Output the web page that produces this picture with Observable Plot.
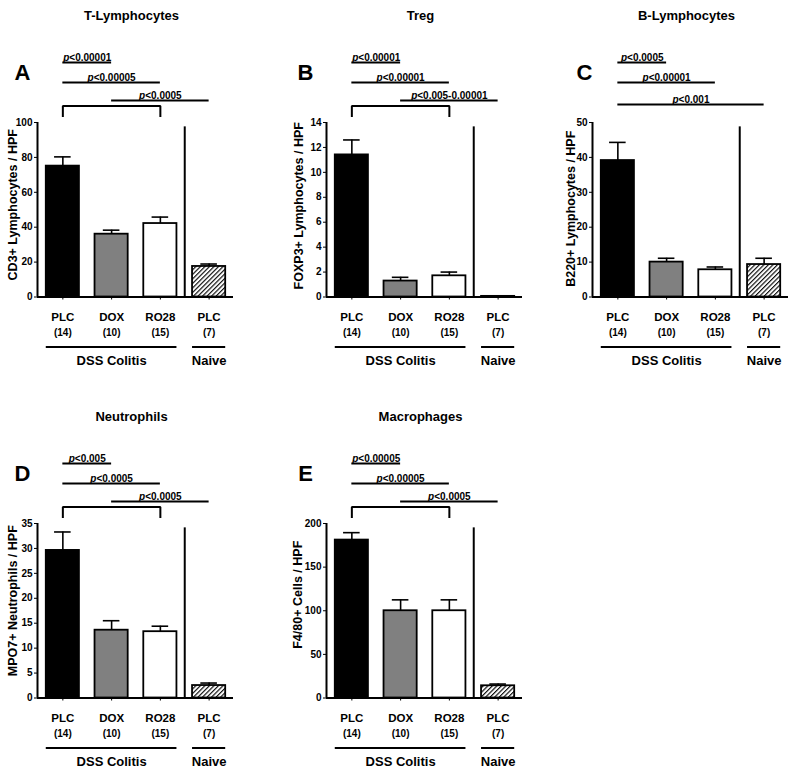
<!DOCTYPE html>
<html><head><meta charset="utf-8">
<script src="https://cdn.jsdelivr.net/npm/d3@7"></script>
<script src="https://cdn.jsdelivr.net/npm/@observablehq/plot@0.6"></script>
<style>
body{margin:0;background:#fff;}
#chart{position:relative;width:800px;height:773px;overflow:hidden;background:#fff;font-family:"Liberation Sans",Arial,sans-serif;}
.panel{position:absolute;}
.panel svg{overflow:visible;}
.panel svg [aria-label^="y-axis"] line,.panel svg [aria-label^="x-axis"] line{stroke-width:1.8;}
</style></head><body>
<svg width="0" height="0" style="position:absolute">
 <defs><pattern id="hatch" patternUnits="userSpaceOnUse" width="3.2" height="3.2" patternTransform="rotate(45)">
 <rect width="3.2" height="3.2" fill="white"/><line x1="0.6" y1="0" x2="0.6" y2="3.2" stroke="black" stroke-width="1.1"/></pattern></defs></svg>
<div id="chart"></div>
<script>
// ---------- shared categories ----------
const groups = ["PLC", "DOX", "RO28", "PLC"];
const groupN = ["(14)", "(10)", "(15)", "(7)"];
const barFills = ["#000000", "#808080", "#ffffff", "url(#hatch)"];
const cohortNames = ["DSS Colitis", "Naive"];
const cohortFirst = [0, 3];
const cohortLast = [2, 3];

// ---------- panel A: T-Lymphocytes ----------
const tcellMean = [75, 36, 42.1, 17.5];
const tcellSem = [5.3, 2.3, 3.7, 1.4];
const tcellTicks = [0, 20, 40, 60, 80, 100];
const tcellCompare = [
  {a: 0, b: 1, label: "p<0.00001", row: 1},
  {a: 0, b: 2, label: "p<0.00005", row: 2},
  {a: 1, b: 3, label: "p<0.0005", row: 3}
];
const tcellBracket = [0, 2];

// ---------- panel B: Treg ----------
const tregMean = [11.4, 1.28, 1.7, 0.05];
const tregSem = [1.2, 0.3, 0.3, 0.02];
const tregTicks = [0, 2, 4, 6, 8, 10, 12, 14];
const tregCompare = [
  {a: 0, b: 1, label: "p<0.00001", row: 1},
  {a: 0, b: 2, label: "p<0.00001", row: 2},
  {a: 1, b: 3, label: "p<0.005-0.00001", row: 3}
];
const tregBracket = [0, 2];

// ---------- panel C: B-Lymphocytes ----------
const bcellMean = [39.1, 10, 7.8, 9.3];
const bcellSem = [5.2, 1.1, 0.8, 1.8];
const bcellTicks = [0, 10, 20, 30, 40, 50];
const bcellCompare = [
  {a: 0, b: 1, label: "p<0.0005", row: 1},
  {a: 0, b: 2, label: "p<0.00001", row: 2},
  {a: 0, b: 3, label: "p<0.001", row: 4}
];
const bcellBracket = null;

// ---------- panel D: Neutrophils ----------
const neutMean = [29.6, 13.6, 13.3, 2.5];
const neutSem = [3.7, 1.9, 1.1, 0.5];
const neutTicks = [0, 5, 10, 15, 20, 25, 30, 35];
const neutCompare = [
  {a: 0, b: 1, label: "p<0.005", row: 1},
  {a: 0, b: 2, label: "p<0.0005", row: 2},
  {a: 1, b: 3, label: "p<0.0005", row: 3}
];
const neutBracket = [0, 2];

// ---------- panel E: Macrophages ----------
const macMean = [181, 100, 100, 14];
const macSem = [8.5, 12.5, 12.5, 2];
const macTicks = [0, 50, 100, 150, 200];
const macCompare = [
  {a: 0, b: 1, label: "p<0.00005", row: 1},
  {a: 0, b: 2, label: "p<0.00005", row: 2},
  {a: 1, b: 3, label: "p<0.0005", row: 3}
];
const macBracket = [0, 2];

// ---------- layout (styles / sizes only) ----------
const FRAME_H = 174.5, FRAME_W = 196, MARGIN_TOP = 122;
const HALF = 0.34, CAP = 0.17;
const ROW_PX = {1: 60, 2: 40, 3: 22, 4: 18};
const BRACKET_TOP = 16.5, BRACKET_BOTTOM = 5.5;
const X_DOMAIN = [-0.52, 3.5];

const panels = [
  {letter: "A", title: "T-Lymphocytes", ylabel: "CD3+ Lymphocytes / HPF", mean: tcellMean, sem: tcellSem, ticks: tcellTicks, compare: tcellCompare, bracket: tcellBracket,
   left: 0, top: 0, width: 265, height: 385, ml: 37, letterDx: -15, ylDx: -25, ylDy: -5},
  {letter: "B", title: "Treg", ylabel: "FOXP3+ Lymphocytes / HPF", mean: tregMean, sem: tregSem, ticks: tregTicks, compare: tregCompare, bracket: tregBracket,
   left: 265, top: 0, width: 265, height: 385, ml: 61, letterDx: -21, ylDx: -28, ylDy: -4},
  {letter: "C", title: "B-Lymphocytes", ylabel: "B220+ Lymphocytes / HPF", mean: bcellMean, sem: bcellSem, ticks: bcellTicks, compare: bcellCompare, bracket: bcellBracket,
   left: 530, top: 0, width: 270, height: 385, ml: 62, letterDx: -8, ylDx: -22, ylDy: -1},
  {letter: "D", title: "Neutrophils", ylabel: "MPO7+ Neutrophils / HPF", mean: neutMean, sem: neutSem, ticks: neutTicks, compare: neutCompare, bracket: neutBracket,
   left: 0, top: 401, width: 265, height: 372, ml: 37, letterDx: -15, ylDx: -25, ylDy: -10},
  {letter: "E", title: "Macrophages", ylabel: "F4/80+ Cells / HPF", mean: macMean, sem: macSem, ticks: macTicks, compare: macCompare, bracket: macBracket,
   left: 265, top: 401, width: 265, height: 372, ml: 61, letterDx: -21, ylDx: -29, ylDy: -16}
];

function italicP(svg) {
  svg.querySelectorAll("text").forEach(t => {
    const s = t.textContent;
    if (/^p</.test(s) && t.children.length === 0) {
      t.textContent = "";
      const ts = document.createElementNS("http://www.w3.org/2000/svg", "tspan");
      ts.setAttribute("font-style", "italic");
      ts.textContent = "p";
      t.appendChild(ts);
      t.appendChild(document.createTextNode(s.slice(1)));
    }
  });
}

const chart = document.getElementById("chart");
for (const p of panels) {
  const yMax = p.ticks[p.ticks.length - 1];
  const up = px => yMax * (1 + px / FRAME_H);
  const bars = p.mean.map((v, i) => ({i, v, top: v + p.sem[i], fill: barFills[i], name: groups[i], n: groupN[i]}));
  const cohorts = cohortNames.map((name, k) => ({name, first: cohortFirst[k], last: cohortLast[k]}));
  const cmp = p.compare.map(c => ({...c, y: up(ROW_PX[c.row])}));
  const bracketPts = p.bracket ? [
    {x: p.bracket[0], y: up(BRACKET_BOTTOM)}, {x: p.bracket[0], y: up(BRACKET_TOP)},
    {x: p.bracket[1], y: up(BRACKET_TOP)}, {x: p.bracket[1], y: up(BRACKET_BOTTOM)}] : [];
  const sepX = cohortLast[0] + 0.5;

  const svg = Plot.plot({
    width: p.width, height: p.height,
    marginLeft: p.ml, marginRight: p.width - p.ml - FRAME_W,
    marginTop: MARGIN_TOP, marginBottom: p.height - MARGIN_TOP - FRAME_H,
    style: {fontFamily: "'Liberation Sans', Arial, sans-serif", fontSize: "10px", fontWeight: "bold", color: "black", background: "white", overflow: "visible"},
    x: {domain: X_DOMAIN, ticks: [0, 1, 2, 3], tickFormat: () => "", tickSize: 3, label: null},
    y: {domain: [0, yMax], ticks: p.ticks, tickSize: 3, tickPadding: 2, label: null, tickFormat: d => d},
    color: {type: "identity"},
    marks: [
      Plot.ruleX(bars, {x: "i", y1: "v", y2: "top", stroke: "black", strokeWidth: 1.6}),
      Plot.ruleY(bars, {y: "top", x1: d => d.i - CAP, x2: d => d.i + CAP, stroke: "black", strokeWidth: 1.6}),
      Plot.rectY(bars, {x1: d => d.i - HALF, x2: d => d.i + HALF, y1: 0, y2: "v", fill: "fill", stroke: "black", strokeWidth: 1.8}),
      Plot.ruleX([X_DOMAIN[0]], {x: d => d, y1: 0, y2: yMax, stroke: "black", strokeWidth: 2}),
      Plot.ruleY([0], {stroke: "black", strokeWidth: 2}),
      Plot.ruleX([sepX], {x: d => d, y1: 0, y2: yMax * 0.975, stroke: "black", strokeWidth: 2}),
      // category labels
      Plot.text(bars, {x: "i", y: 0, text: "name", dy: 23.5, lineAnchor: "bottom", fontSize: 11.5, fontWeight: "bold"}),
      Plot.text(bars, {x: "i", y: 0, text: "n", dy: 38.5, lineAnchor: "bottom", fontSize: 10, fontWeight: "bold"}),
      Plot.ruleY(cohorts, {y: 0, x1: d => d.first - HALF, x2: d => d.last + HALF, dy: 50, stroke: "black", strokeWidth: 2}),
      Plot.text(cohorts, {x: d => (d.first + d.last) / 2, y: 0, text: "name", dy: 67.5, lineAnchor: "bottom", fontSize: 13, fontWeight: "bold"}),
      // significance
      Plot.ruleY(cmp, {y: "y", x1: "a", x2: "b", stroke: "black", strokeWidth: 1.8}),
      Plot.text(cmp, {x: d => (d.a + d.b) / 2, y: "y", text: "label", dy: -1.5, lineAnchor: "bottom", fontSize: 10, fontWeight: "bold"}),
      Plot.line(bracketPts, {x: "x", y: "y", stroke: "black", strokeWidth: 2, strokeLinejoin: "miter", strokeLinecap: "butt"}),
      // titles
      Plot.text([p.title], {text: d => d, frameAnchor: "top", dy: -103, dx: -4, lineAnchor: "bottom", fontSize: 13, fontWeight: "bold"}),
      Plot.text([p.letter], {text: d => d, frameAnchor: "top-left", dx: p.letterDx, dy: -43, lineAnchor: "bottom", textAnchor: "middle", fontSize: 22, fontWeight: "bold"}),
      Plot.text([p.ylabel], {text: d => d, frameAnchor: "left", rotate: -90, dx: p.ylDx, dy: p.ylDy, textAnchor: "middle", lineAnchor: "middle", fontSize: 12.5, fontWeight: "bold"})
    ]
  });
  italicP(svg);
  const div = document.createElement("div");
  div.className = "panel";
  div.style.left = p.left + "px";
  div.style.top = p.top + "px";
  div.style.width = p.width + "px";
  div.style.height = p.height + "px";
  div.appendChild(svg);
  chart.appendChild(div);
}
</script>
</body></html>
